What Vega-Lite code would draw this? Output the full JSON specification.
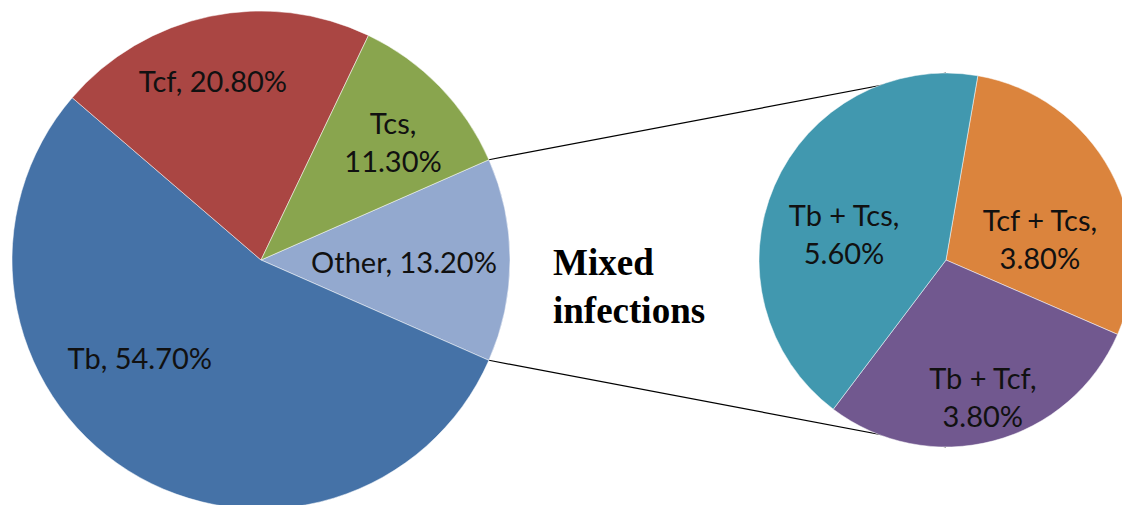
{
  "$schema": "https://vega.github.io/schema/vega-lite/v6.json",
  "width": 1122,
  "height": 505,
  "autosize": {"type": "none"},
  "padding": 0,
  "background": "#ffffff",
  "config": {"view": {"stroke": null}},
  "datasets": {
    "main": [
      {"cat": "Other", "value": 13.2},
      {"cat": "Tb", "value": 54.7},
      {"cat": "Tcf", "value": 20.8},
      {"cat": "Tcs", "value": 11.3}
    ],
    "mixed": [
      {"cat": "Tcf + Tcs", "value": 3.8},
      {"cat": "Tb + Tcf", "value": 3.8},
      {"cat": "Tb + Tcs", "value": 5.6}
    ]
  },
  "resolve": {"scale": {"theta": "independent"}},
  "layer": [
    {
      "data": {"values": [{}]},
      "mark": {"type": "rule", "color": "#000000", "strokeWidth": 1.2},
      "encoding": {
        "x": {"datum": 0.9153, "type": "quantitative", "scale": {"domain": [-1.0482, 3.4578], "nice": false, "zero": false}, "axis": null},
        "y": {"datum": 0.4027, "type": "quantitative", "scale": {"domain": [-0.9839, 1.0442], "nice": false, "zero": false}, "axis": null},
        "x2": {"datum": 2.751},
        "y2": {"datum": 0.751}
      }
    },
    {
      "data": {"values": [{}]},
      "mark": {"type": "rule", "color": "#000000", "strokeWidth": 1.2},
      "encoding": {
        "x": {"datum": 0.9153, "type": "quantitative", "scale": {"domain": [-1.0482, 3.4578], "nice": false, "zero": false}, "axis": null},
        "y": {"datum": -0.4027, "type": "quantitative", "scale": {"domain": [-0.9839, 1.0442], "nice": false, "zero": false}, "axis": null},
        "x2": {"datum": 2.751},
        "y2": {"datum": -0.751}
      }
    },
    {
      "data": {"name": "main"},
      "transform": [
        {"window": [{"op": "row_number", "as": "i"}]},
        {"calculate": "datum.cat + ', ' + format(datum.value, '.2f') + '%'", "as": "label1"},
        {"calculate": "datum.cat + ',\\n' + format(datum.value, '.2f') + '%'", "as": "label2"}
      ],
      "encoding": {
        "x": {"datum": 0, "type": "quantitative", "scale": {"domain": [-1.0482, 3.4578], "nice": false, "zero": false}, "axis": null},
        "y": {"datum": 0, "type": "quantitative", "scale": {"domain": [-0.9839, 1.0442], "nice": false, "zero": false}, "axis": null},
        "theta": {"field": "value", "type": "quantitative", "stack": true, "scale": {"domain": [0, 100], "range": [1.15628, 7.43947]}},
        "order": {"field": "i", "type": "quantitative"}
      },
      "layer": [
        {
          "mark": {"type": "arc", "outerRadius": 249, "stroke": "#ffffff", "strokeWidth": 0.5},
          "encoding": {
            "color": {
              "field": "cat", "type": "nominal", "legend": null,
              "scale": {
                "domain": ["Tb", "Tcf", "Tcs", "Other", "Tb + Tcs", "Tcf + Tcs", "Tb + Tcf"],
                "range": ["#4572A7", "#AA4643", "#89A54E", "#93A9CF", "#4198AF", "#DB843D", "#71588F"]
              }
            }
          }
        },
        {
          "mark": {"type": "text", "radius": 180, "dx": -11, "dy": -1, "font": "Lato", "fontSize": 29, "lineHeight": 38, "lineBreak": "\n", "align": "center", "baseline": "middle", "color": "#111111"},
          "encoding": {"text": {"condition": {"test": "datum.cat === 'Tcf'", "field": "label1"}, "value": ""}}
        },
        {
          "mark": {"type": "text", "radius": 188, "dx": -3, "dy": -4, "font": "Lato", "fontSize": 29, "lineHeight": 38, "lineBreak": "\n", "align": "center", "baseline": "middle", "color": "#111111"},
          "encoding": {"text": {"condition": {"test": "datum.cat === 'Tcs'", "field": "label2"}, "value": ""}}
        },
        {
          "mark": {"type": "text", "radius": 143, "dx": 0, "dy": 4, "font": "Lato", "fontSize": 29, "lineHeight": 38, "lineBreak": "\n", "align": "center", "baseline": "middle", "color": "#111111"},
          "encoding": {"text": {"condition": {"test": "datum.cat === 'Other'", "field": "label1"}, "value": ""}}
        },
        {
          "mark": {"type": "text", "radius": 156, "dx": -38, "dy": -32, "font": "Lato", "fontSize": 29, "lineHeight": 38, "lineBreak": "\n", "align": "center", "baseline": "middle", "color": "#111111"},
          "encoding": {"text": {"condition": {"test": "datum.cat === 'Tb'", "field": "label1"}, "value": ""}}
        }
      ]
    },
    {
      "data": {"name": "mixed"},
      "transform": [
        {"window": [{"op": "row_number", "as": "i"}]},
        {"calculate": "datum.cat + ',\\n' + format(datum.value, '.2f') + '%'", "as": "label2"}
      ],
      "encoding": {
        "x": {"datum": 2.751, "type": "quantitative", "scale": {"domain": [-1.0482, 3.4578], "nice": false, "zero": false}, "axis": null},
        "y": {"datum": 0, "type": "quantitative", "scale": {"domain": [-0.9839, 1.0442], "nice": false, "zero": false}, "axis": null},
        "theta": {"field": "value", "type": "quantitative", "stack": true, "scale": {"domain": [0, 13.2], "range": [0.171, 6.4542]}},
        "order": {"field": "i", "type": "quantitative"}
      },
      "layer": [
        {
          "mark": {"type": "arc", "outerRadius": 187, "stroke": "#ffffff", "strokeWidth": 0.5},
          "encoding": {
            "color": {
              "field": "cat", "type": "nominal", "legend": null,
              "scale": {
                "domain": ["Tb", "Tcf", "Tcs", "Other", "Tb + Tcs", "Tcf + Tcs", "Tb + Tcf"],
                "range": ["#4572A7", "#AA4643", "#89A54E", "#93A9CF", "#4198AF", "#DB843D", "#71588F"]
              }
            }
          }
        },
        {
          "mark": {"type": "text", "radius": 110, "dx": -1, "dy": 1, "font": "Lato", "fontSize": 29, "lineHeight": 38, "lineBreak": "\n", "align": "center", "baseline": "middle", "color": "#111111"},
          "encoding": {"text": {"condition": {"test": "datum.cat === 'Tb + Tcs'", "field": "label2"}, "value": ""}}
        },
        {
          "mark": {"type": "text", "radius": 101, "dx": 5, "dy": 10, "font": "Lato", "fontSize": 29, "lineHeight": 38, "lineBreak": "\n", "align": "center", "baseline": "middle", "color": "#111111"},
          "encoding": {"text": {"condition": {"test": "datum.cat === 'Tcf + Tcs'", "field": "label2"}, "value": ""}}
        },
        {
          "mark": {"type": "text", "radius": 125, "dx": 5, "dy": -1, "font": "Lato", "fontSize": 29, "lineHeight": 38, "lineBreak": "\n", "align": "center", "baseline": "middle", "color": "#111111"},
          "encoding": {"text": {"condition": {"test": "datum.cat === 'Tb + Tcf'", "field": "label2"}, "value": ""}}
        }
      ]
    },
    {
      "data": {"values": [{}]},
      "mark": {"type": "text", "text": ["Mixed", "infections"], "font": "Liberation Serif", "fontWeight": "bold", "fontSize": 37, "lineHeight": 48, "align": "left", "baseline": "alphabetic", "color": "#000000"},
      "encoding": {
        "x": {"datum": 1.1727, "type": "quantitative", "scale": {"domain": [-1.0482, 3.4578], "nice": false, "zero": false}, "axis": null},
        "y": {"datum": -0.0602, "type": "quantitative", "scale": {"domain": [-0.9839, 1.0442], "nice": false, "zero": false}, "axis": null}
      }
    }
  ]
}
